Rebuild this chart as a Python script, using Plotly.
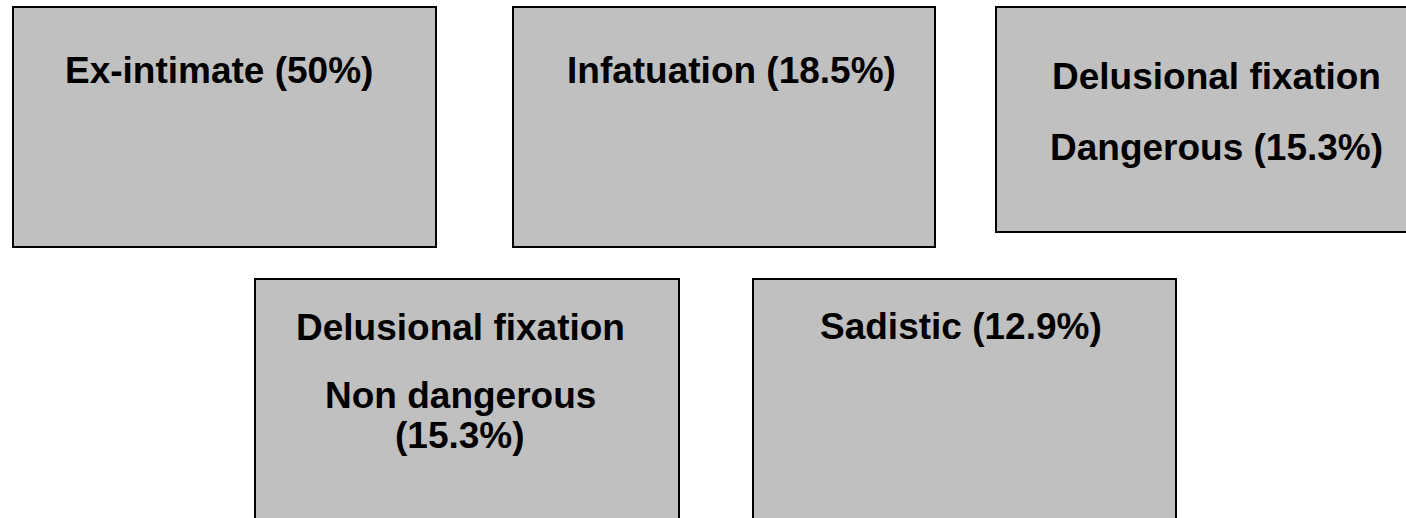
import plotly.graph_objects as go

# ---- data ----
categories = [
    ["Ex-intimate"],
    ["Infatuation"],
    ["Delusional fixation", "Dangerous"],
    ["Delusional fixation", "Non dangerous"],
    ["Sadistic"],
]
percentages = [50, 18.5, 15.3, 15.3, 12.9]
percent_on_own_line = [False, False, False, True, False]

# ---- layout (pixel coordinates, y downward) ----
W, H = 1406, 518
box_x0 = [12, 512, 995, 254, 752]
box_x1 = [437, 936, 1420, 680, 1177]
box_y0 = [6, 6, 6, 278, 278]
box_y1 = [248, 248, 233, 530, 530]
text_cx = [219, 731, 1216, 460, 961]
line_baselines = [[83], [83], [89, 160], [340, 408, 448], [339]]

FONT_SIZE = 37
BASE_OFFSET = 13  # baseline -> visual middle of caps

fig = go.Figure()
fig.add_trace(go.Scatter(x=[0, W], y=[0, H], mode="markers",
                         marker=dict(opacity=0), hoverinfo="skip", showlegend=False))

for i in range(len(categories)):
    fig.add_shape(type="rect", xref="x", yref="y",
                  x0=box_x0[i] + 1, x1=box_x1[i] - 1,
                  y0=box_y0[i] + 1, y1=box_y1[i] - 1,
                  fillcolor="#C0C0C0", line=dict(color="#000000", width=2), layer="below")
    pct = f"({percentages[i]:g}%)"
    lines = list(categories[i])
    if percent_on_own_line[i]:
        lines.append(pct)
    else:
        lines[-1] = f"{lines[-1]} {pct}"
    for txt, base in zip(lines, line_baselines[i]):
        fig.add_annotation(x=text_cx[i], y=base - BASE_OFFSET, xref="x", yref="y",
                           text=txt, showarrow=False, xanchor="center", yanchor="middle",
                           font=dict(family="Liberation Sans, Arial, sans-serif",
                                     size=FONT_SIZE, color="#000000", weight=700))

fig.update_layout(
    width=W, height=H,
    margin=dict(l=0, r=0, t=0, b=0),
    paper_bgcolor="white", plot_bgcolor="white",
    xaxis=dict(range=[0, W], visible=False, fixedrange=True),
    yaxis=dict(range=[H, 0], visible=False, fixedrange=True),
    showlegend=False,
)

fig.write_html("out.html", config={"displayModeBar": False},
               post_script="document.body.style.margin='0';document.body.style.overflow='hidden';")
